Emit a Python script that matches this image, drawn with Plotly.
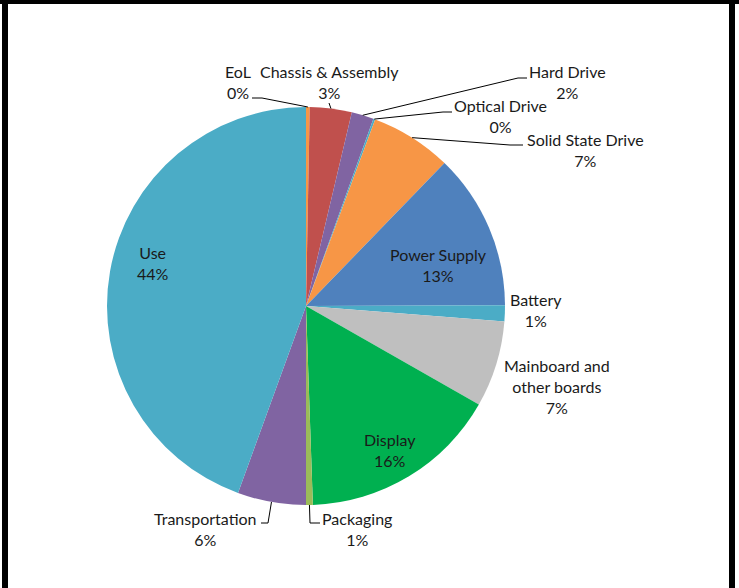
import math
import plotly.graph_objects as go

# ---- data ----
categories = ["EoL", "Chassis & Assembly", "Hard Drive", "Optical Drive", "Solid State Drive",
              "Power Supply", "Battery", "Mainboard and<br>other boards", "Display", "Packaging",
              "Transportation", "Use"]
values = [0.3, 3.4, 1.8, 0.15, 6.6, 12.7, 1.3, 7.0, 16.2, 0.55, 5.55, 44.45]
pct_labels = ["0%", "3%", "2%", "0%", "7%", "13%", "1%", "7%", "16%", "1%", "6%", "44%"]
colors = ["#F79646", "#C0504D", "#8064A2", "#4BACC6", "#F79646", "#4F81BD", "#4BACC6",
          "#BFBFBF", "#00B050", "#9BBB59", "#8064A2", "#4BACC6"]

# ---- layout constants (pixels) ----
W, H = 739, 588
cx, cy, R = 306, 306, 199
label_pos = [(238, 82), (329, 82), (567, 82), (500, 116), (585, 150),
             (438, 265), (536, 310.5), (557, 386), (390, 450), (357, 529),
             (205, 529), (153, 263)]
# leader-line elbow points (outer end first); None = no leader line
leaders = [[(252, 98), (262, 98)], [(329, 103)], [(527, 78), (518, 78)],
           [(452, 112), (443, 112)], [(523, 145), (510, 145)], None, None, None, None,
           [(320, 523), (310, 523)], [(261, 523), (268, 523)], None]

def px(x):
    return x / W

def py(y):
    return 1 - y / H

fig = go.Figure(go.Pie(
    labels=categories, values=values, sort=False, direction="clockwise", rotation=0,
    marker=dict(colors=colors, line=dict(width=0)), textinfo="none", hoverinfo="label+percent",
    showlegend=False,
    domain=dict(x=[px(cx - R), px(cx + R)], y=[py(cy + R), py(cy - R)]),
))

total = sum(values)
cum = 0.0
shapes = []
annotations = []
for i, (cat, v) in enumerate(zip(categories, values)):
    mid = (cum + v / 2) / total
    cum += v
    ang = 2 * math.pi * mid
    ix, iy = cx + R * math.sin(ang), cy - R * math.cos(ang)
    lx, ly = label_pos[i]
    annotations.append(dict(
        x=px(lx), y=py(ly), xref="paper", yref="paper", xanchor="center", yanchor="middle",
        text=cat + "<br>" + pct_labels[i], showarrow=False, align="center",
        font=dict(family="Lato", size=16, color="#1a1a1a"),
    ))
    if leaders[i]:
        pts = leaders[i] + [(ix, iy)]
        path = "M " + " L ".join(f"{px(x)},{py(y)}" for x, y in pts)
        shapes.append(dict(type="path", xref="paper", yref="paper", path=path,
                           line=dict(color="#000000", width=1)))

# black frame edges
for x0, y0, x1, y1 in [(0, 0, W, 4), (2, 0, 8, H), (729, 0, 735, H)]:
    shapes.append(dict(type="rect", xref="paper", yref="paper", x0=px(x0), x1=px(x1),
                       y0=py(y1), y1=py(y0), fillcolor="#000000", line=dict(width=0)))

fig.update_layout(width=W, height=H, autosize=False, margin=dict(l=0, r=0, t=0, b=0),
                  paper_bgcolor="white", plot_bgcolor="white",
                  shapes=shapes, annotations=annotations)
fig.write_html("out.html", config={"displayModeBar": False},
               post_script="document.body.style.margin='0';document.body.style.overflow='hidden';")
